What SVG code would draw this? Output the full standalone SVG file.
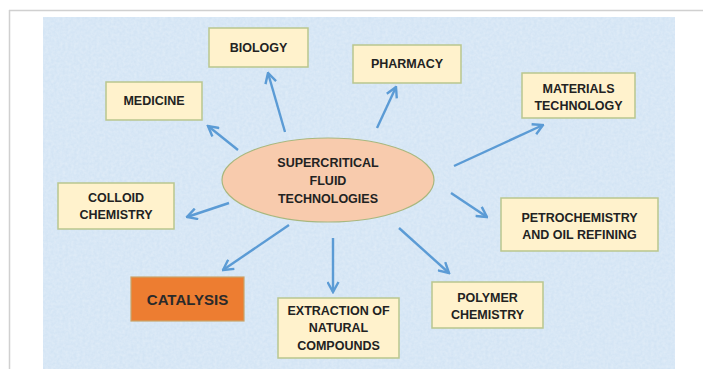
<svg xmlns="http://www.w3.org/2000/svg" width="703" height="369" viewBox="0 0 703 369">
  <defs>
    <marker id="arr" viewBox="0 0 13 13" refX="11.5" refY="6.5" markerWidth="13" markerHeight="13" markerUnits="userSpaceOnUse" orient="auto">
      <path d="M1.5,1 L11.5,6.5 L1.5,12" fill="none" stroke="#5B9BD5" stroke-width="2.4" stroke-linejoin="miter"/>
    </marker>
    <filter id="tex" x="0" y="0" width="1" height="1">
      <feTurbulence type="fractalNoise" baseFrequency="0.35" numOctaves="2" seed="4" result="n"/>
      <feColorMatrix in="n" type="matrix" values="0 0 0 0 0.88  0 0 0 0 0.93  0 0 0 0 0.98  0 0 0 0.55 -0.12" result="c"/>
      <feComposite in="c" in2="SourceGraphic" operator="in" result="m"/>
      <feMerge><feMergeNode in="SourceGraphic"/><feMergeNode in="m"/></feMerge>
    </filter>
  </defs>
  <style>
    .box { fill: #FFF2CC; stroke: #B9C68E; stroke-width: 1.5; }
    .lbl { font-family: "Liberation Sans", Arial, sans-serif; font-weight: bold; font-size: 12.5px; fill: #222222; text-anchor: middle; }
    .big { font-size: 15px; fill: #2a2a2a; }
    .conn line { stroke: #5B9BD5; stroke-width: 2.4; marker-end: url(#arr); }
  </style>

  <rect x="0" y="0" width="703" height="369" fill="#ffffff"/>
  <line x1="9" y1="10.5" x2="703" y2="10.5" stroke="#d0d0d0" stroke-width="1.5"/>
  <line x1="9.5" y1="10" x2="9.5" y2="369" stroke="#d0d0d0" stroke-width="1.5"/>
  <rect x="43" y="17" width="632" height="352" fill="#D3E4F4" filter="url(#tex)"/>

  <g class="conn">
    <line x1="285" y1="132" x2="268" y2="73"/>
    <line x1="238" y1="150" x2="208" y2="126"/>
    <line x1="229" y1="203" x2="187" y2="217"/>
    <line x1="289" y1="225" x2="223" y2="270"/>
    <line x1="333" y1="238" x2="333" y2="292"/>
    <line x1="399" y1="228" x2="449" y2="273"/>
    <line x1="451" y1="193" x2="487" y2="217"/>
    <line x1="454" y1="166" x2="543" y2="125"/>
    <line x1="377" y1="128" x2="396" y2="87"/>
  </g>

  <g id="center">
    <ellipse cx="328" cy="180" rx="106" ry="42" fill="#F8CBAD" stroke="#A9B77E" stroke-width="1.2"/>
    <text class="lbl" x="328" y="167">SUPERCRITICAL</text>
    <text class="lbl" x="328" y="185">FLUID</text>
    <text class="lbl" x="328" y="203">TECHNOLOGIES</text>
  </g>

  <g id="biology">
    <rect class="box" x="209" y="28" width="99" height="39"/>
    <text class="lbl" x="258.5" y="52">BIOLOGY</text>
  </g>

  <g id="medicine">
    <rect class="box" x="106" y="82" width="96" height="38"/>
    <text class="lbl" x="154" y="105">MEDICINE</text>
  </g>

  <g id="pharmacy">
    <rect class="box" x="353" y="45" width="108" height="38"/>
    <text class="lbl" x="407" y="68">PHARMACY</text>
  </g>

  <g id="materials">
    <rect class="box" x="522" y="73" width="113" height="45"/>
    <text class="lbl" x="578.5" y="93">MATERIALS</text>
    <text class="lbl" x="578.5" y="110">TECHNOLOGY</text>
  </g>

  <g id="colloid">
    <rect class="box" x="58" y="183" width="116" height="46"/>
    <text class="lbl" x="116" y="202">COLLOID</text>
    <text class="lbl" x="116" y="219">CHEMISTRY</text>
  </g>

  <g id="petrochemistry">
    <rect class="box" x="501" y="198" width="157" height="53"/>
    <text class="lbl" x="579.5" y="222">PETROCHEMISTRY</text>
    <text class="lbl" x="579.5" y="239">AND OIL REFINING</text>
  </g>

  <g id="catalysis">
    <rect x="131" y="277" width="113" height="44" fill="#ED7D31" stroke="#C9A36A" stroke-width="1.2"/>
    <text class="lbl big" x="187.5" y="305">CATALYSIS</text>
  </g>

  <g id="extraction">
    <rect class="box" x="278" y="298" width="121" height="60"/>
    <text class="lbl" x="338.5" y="315">EXTRACTION OF</text>
    <text class="lbl" x="338.5" y="332">NATURAL</text>
    <text class="lbl" x="338.5" y="350">COMPOUNDS</text>
  </g>

  <g id="polymer">
    <rect class="box" x="432" y="282" width="111" height="46"/>
    <text class="lbl" x="487.5" y="302">POLYMER</text>
    <text class="lbl" x="487.5" y="319">CHEMISTRY</text>
  </g>
</svg>
